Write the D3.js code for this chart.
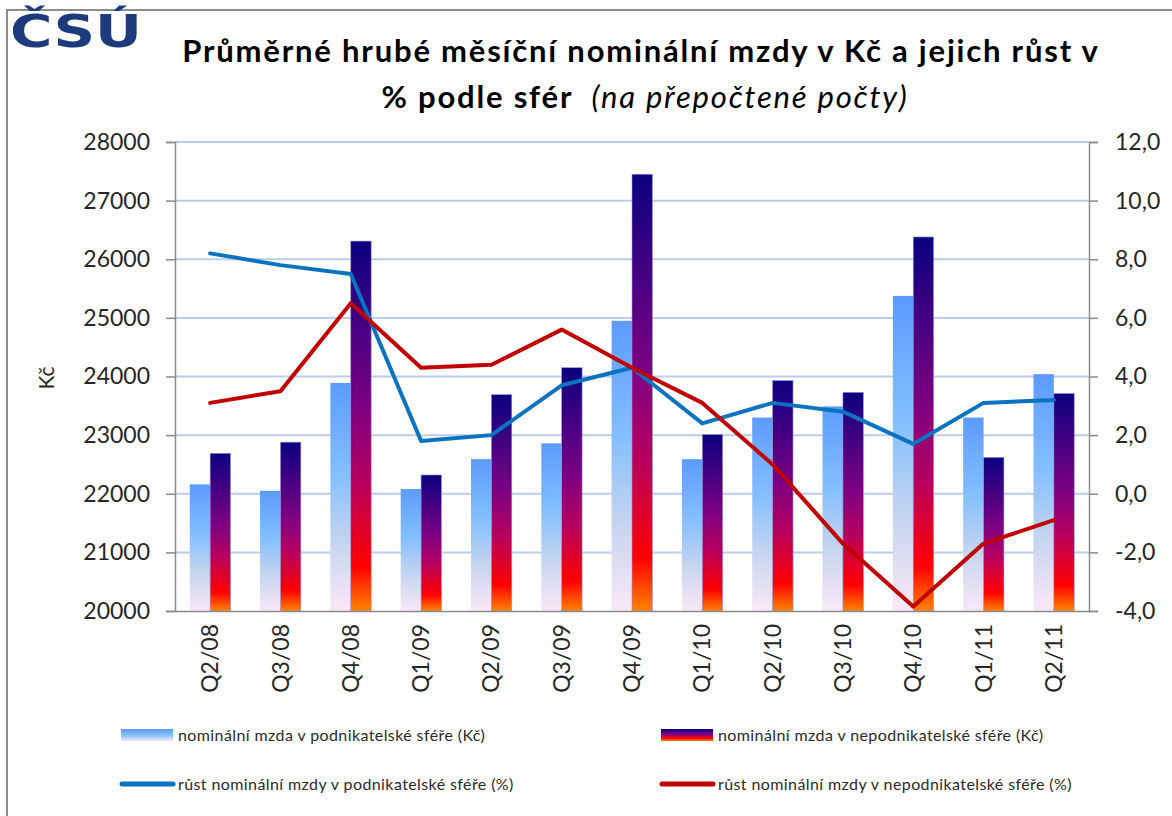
<!DOCTYPE html>
<html>
<head>
<meta charset="utf-8">
<script src="https://cdn.jsdelivr.net/npm/d3@7"></script>
<style>
  body { margin: 0; background: #fff; }
  text { font-family: Lato, "Open Sans", sans-serif; }
</style>
</head>
<body>
<div id="chart"></div>
<script>
// data
var quarters = ["Q2/08","Q3/08","Q4/08","Q1/09","Q2/09","Q3/09","Q4/09","Q1/10","Q2/10","Q3/10","Q4/10","Q1/11","Q2/11"];
var wageBusiness = [22160, 22050, 23890, 22080, 22590, 22860, 24950, 22590, 23300, 23490, 25375, 23300, 24040];
var wageNonBusiness = [22690, 22880, 26310, 22320, 23690, 24150, 27450, 23010, 23930, 23730, 26380, 22620, 23710];
var growthBusiness = [8.2, 7.8, 7.5, 1.8, 2.0, 3.7, 4.3, 2.4, 3.1, 2.8, 1.7, 3.1, 3.2];
var growthNonBusiness = [3.1, 3.5, 6.5, 4.3, 4.4, 5.6, 4.3, 3.1, 1.0, -1.7, -3.85, -1.7, -0.9];
var leftTicks = [20000, 21000, 22000, 23000, 24000, 25000, 26000, 27000, 28000];
var rightTicks = [-4, -2, 0, 2, 4, 6, 8, 10, 12];

var W = 1172, H = 816;
var plot = {left: 175, right: 1089, top: 142, bottom: 611};

var svg = d3.select("#chart").append("svg")
    .attr("width", W)
    .attr("height", H);

var defs = svg.append("defs");

function addGradient(id, stops) {
    var g = defs.append("linearGradient")
        .attr("id", id)
        .attr("x1", 0).attr("y1", 0)
        .attr("x2", 0).attr("y2", 1);
    stops.forEach(function(s) {
        g.append("stop").attr("offset", s[0]).attr("stop-color", s[1]);
    });
}
addGradient("gradLight", [[0, "#5c9bff"], [0.4, "#84bfff"], [0.7, "#c6d5ef"], [1, "#fbe8f8"]]);
addGradient("gradDark", [[0, "#0a0080"], [0.45, "#7e0082"], [0.65, "#b6005f"], [0.88, "#ff0000"], [1, "#ff8400"]]);
addGradient("gradLightH", [[0, "#5c9bff"], [0.5, "#84bfff"], [1, "#f2e8f8"]]);
addGradient("gradDarkH", [[0, "#0a0080"], [0.45, "#7e0082"], [0.75, "#ff0000"], [1, "#ff8400"]]);

// frame
svg.append("path")
    .attr("d", "M7," + H + "V10H" + W)
    .attr("fill", "none")
    .attr("stroke", "#8c8c8c")
    .attr("stroke-width", 2);

// logo
svg.append("text")
    .attr("x", 10)
    .attr("y", 47)
    .attr("textLength", 132)
    .attr("lengthAdjust", "spacingAndGlyphs")
    .style("font-family", "'DejaVu Sans', sans-serif")
    .style("font-weight", "bold")
    .style("font-size", "44px")
    .attr("fill", "#1c3a7c")
    .text("ČSÚ");

// title
svg.append("text")
    .attr("text-anchor", "middle")
    .attr("x", 641).attr("y", 62)
    .style("font-size", "31px")
    .style("font-weight", "bold")
    .style("letter-spacing", "1.8px")
    .attr("fill", "#000")
    .text("Průměrné hrubé měsíční nominální mzdy v Kč a jejich růst v");
var t2 = svg.append("text")
    .attr("text-anchor", "middle")
    .attr("x", 645).attr("y", 108)
    .style("font-size", "31px")
    .style("letter-spacing", "1.8px")
    .attr("fill", "#000");
t2.append("tspan").style("font-weight", "bold").text("% podle sfér");
t2.append("tspan").attr("xml:space", "preserve").style("font-style", "italic").text("  (na přepočtené počty)");

// scales
var x = d3.scaleBand()
    .domain(quarters)
    .range([plot.left, plot.right])
    .paddingInner(0.42)
    .paddingOuter(0.21);
var xSub = d3.scaleBand()
    .domain([0, 1])
    .range([0, x.bandwidth()]);
var yLeft = d3.scaleLinear().domain([20000, 28000]).range([plot.bottom, plot.top]);
var yRight = d3.scaleLinear().domain([-4, 12]).range([plot.bottom, plot.top]);

// gridlines
svg.append("g")
    .selectAll("line")
    .data(leftTicks.slice(1))
    .enter()
    .append("line")
    .attr("x1", plot.left)
    .attr("x2", plot.right)
    .attr("y1", function(d) { return yLeft(d); })
    .attr("y2", function(d) { return yLeft(d); })
    .attr("stroke", "#bccced")
    .attr("stroke-width", 2);

// bars
var groups = svg.append("g")
    .selectAll("g")
    .data(quarters)
    .enter()
    .append("g")
    .attr("transform", function(d) { return "translate(" + x(d) + ",0)"; });

groups.append("rect")
    .attr("x", xSub(0))
    .attr("width", xSub.bandwidth())
    .attr("y", function(d, i) { return yLeft(wageBusiness[i]); })
    .attr("height", function(d, i) { return yLeft(20000) - yLeft(wageBusiness[i]); })
    .attr("fill", "url(#gradLight)");

groups.append("rect")
    .attr("x", xSub(1))
    .attr("width", xSub.bandwidth())
    .attr("y", function(d, i) { return yLeft(wageNonBusiness[i]); })
    .attr("height", function(d, i) { return yLeft(20000) - yLeft(wageNonBusiness[i]); })
    .attr("fill", "url(#gradDark)")
    .attr("stroke", "#9a90d8")
    .attr("stroke-width", 0.6);

// axes
var fmtRight = function(d) { return d.toFixed(1).replace(".", ","); };

var axL = svg.append("g")
    .attr("transform", "translate(" + plot.left + ",0)")
    .call(d3.axisLeft(yLeft).tickValues(leftTicks).tickSize(9).tickPadding(16).tickFormat(d3.format("d")));
var axR = svg.append("g")
    .attr("transform", "translate(" + plot.right + ",0)")
    .call(d3.axisRight(yRight).tickValues(rightTicks).tickSize(9).tickPadding(17).tickFormat(fmtRight));
var axB = svg.append("g")
    .attr("transform", "translate(0," + plot.bottom + ")")
    .call(d3.axisBottom(x).tickSize(0).tickPadding(0));

[axL, axR, axB].forEach(function(a) {
    a.select(".domain").attr("stroke", "#8a8a8a").attr("stroke-width", 1.5);
    a.selectAll(".tick line").attr("stroke", "#8a8a8a").attr("stroke-width", 1.5);
    a.selectAll(".tick text")
        .style("font-family", "Lato, sans-serif")
        .style("font-size", "23px")
        .attr("fill", "#262626");
});
axB.selectAll(".tick text")
    .attr("transform", "rotate(-90)")
    .attr("text-anchor", "end")
    .attr("x", -13)
    .attr("y", 0)
    .attr("dy", "0.35em");

svg.append("text")
    .attr("transform", "translate(54,378) rotate(-90)")
    .attr("text-anchor", "middle")
    .style("font-size", "21px")
    .attr("fill", "#262626")
    .text("Kč");

// growth lines
var lineFn = function(vals) {
    return d3.line()
        .x(function(d, i) { return x(quarters[i]) + x.bandwidth() / 2; })
        .y(function(d) { return yRight(d); })(vals);
};
svg.append("path")
    .attr("d", lineFn(growthBusiness))
    .attr("fill", "none")
    .attr("stroke", "#0a73c1")
    .attr("stroke-width", 4)
    .attr("stroke-linejoin", "round")
    .attr("stroke-linecap", "round");
svg.append("path")
    .attr("d", lineFn(growthNonBusiness))
    .attr("fill", "none")
    .attr("stroke", "#c10000")
    .attr("stroke-width", 4)
    .attr("stroke-linejoin", "round")
    .attr("stroke-linecap", "round");

// legend
var legendItems = [
    {label: "nominální mzda v podnikatelské sféře (Kč)", kind: "bar", fill: "url(#gradLightH)", x: 121, y: 735},
    {label: "nominální mzda v nepodnikatelské sféře (Kč)", kind: "bar", fill: "url(#gradDarkH)", x: 661, y: 735},
    {label: "růst nominální mzdy v podnikatelské sféře (%)", kind: "line", fill: "#0a73c1", x: 121, y: 784},
    {label: "růst nominální mzdy v nepodnikatelské sféře (%)", kind: "line", fill: "#c10000", x: 661, y: 784}
];
var leg = svg.append("g")
    .selectAll("g")
    .data(legendItems)
    .enter()
    .append("g")
    .attr("transform", function(d) { return "translate(" + d.x + "," + d.y + ")"; });
leg.filter(function(d) { return d.kind === "bar"; })
    .append("rect")
    .attr("x", 0).attr("y", -6)
    .attr("width", 52).attr("height", 12)
    .attr("fill", function(d) { return d.fill; });
leg.filter(function(d) { return d.kind === "line"; })
    .append("line")
    .attr("x1", 1).attr("x2", 52)
    .attr("y1", 0).attr("y2", 0)
    .attr("stroke", function(d) { return d.fill; })
    .attr("stroke-width", 5)
    .attr("stroke-linecap", "round");
leg.append("text")
    .attr("x", 57)
    .attr("y", 0)
    .attr("dy", "0.35em")
    .style("font-size", "16px")
    .style("letter-spacing", "0.4px")
    .attr("fill", "#2a2a2a")
    .text(function(d) { return d.label; });
</script>
</body>
</html>
